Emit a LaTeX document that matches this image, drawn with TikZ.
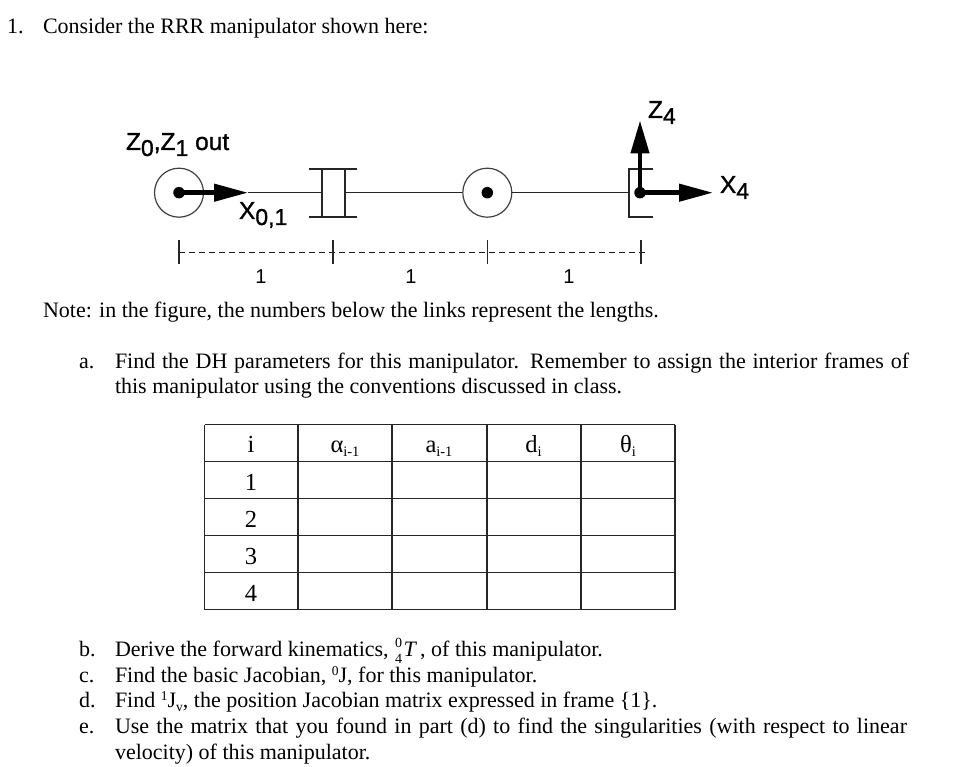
\documentclass[tikz,border=0pt]{standalone}
\usepackage{fontspec}
\setmainfont{Liberation Serif}
\newfontfamily\figfont[FakeBold=1.2]{Liberation Sans}
\newfontfamily\dimfont{Liberation Sans}
\usetikzlibrary{arrows.meta}
\newcommand{\figsub}[1]{\raisebox{-6pt}{\fontsize{23}{23}\selectfont #1}}
\newcommand{\supr}[1]{\raisebox{7pt}{\fontsize{13.5}{13.5}\selectfont #1}}
\newcommand{\subr}[1]{\raisebox{-4pt}{\fontsize{14.5}{14.5}\selectfont #1}}
\newcommand{\subv}[1]{\raisebox{-4pt}{\fontsize{13.5}{13.5}\selectfont #1}}
\newcommand{\stackzt}{\hspace{1pt}\rlap{\raisebox{9pt}{\fontsize{14}{14}\selectfont 0}}\raisebox{-7pt}{\fontsize{14}{14}\selectfont 4}\hspace{1.5pt}\textit{T}\hspace{3pt}}
\tikzset{
  x=1pt,y=-1pt,
  txt/.style={anchor=base west,inner sep=0pt,outer sep=0pt,font=\fontsize{22}{25}\selectfont},
  lab/.style={anchor=base west,inner sep=0pt,outer sep=0pt,font=\figfont\fontsize{24.5}{28}\selectfont},
  dimlab/.style={anchor=base,inner sep=0pt,outer sep=0pt,font=\dimfont\fontsize{20}{22}\selectfont},
  cellt/.style={anchor=base,inner sep=0pt,outer sep=0pt,font=\fontsize{24.5}{26}\selectfont},
  link/.style={draw=black!85,line width=1.5pt},
  rail/.style={draw=black!85,line width=1.6pt},
  joint/.style={circle,draw=black!75,line width=1.2pt,minimum size=49pt,inner sep=0pt,fill=white},
  hub/.style={circle,fill=black,minimum size=11.5pt,inner sep=0pt},
  axis/.style={line width=4.4pt,-{Triangle[length=34pt,width=17pt]}},
  zaxis/.style={line width=4.4pt,-{Triangle[length=33pt,width=18pt]}},
  dim/.style={draw=black!90,line width=1.4pt,dash pattern=on 6pt off 4pt},
  tick/.style={draw=black!85,line width=1.3pt},
  grid/.style={draw=black!85,line width=1.1pt}
}
\begin{document}
\begin{tikzpicture}
\useasboundingbox (0,0) rectangle (956,767);
\fill[white] (0,0) rectangle (956,767);
% text
\node[txt] (t1) at (7,34) {1.};
\node[txt] (t2) at (43,34) {Consider the RRR manipulator shown here:};
\node[txt] (note) at (43,318) {Note: in the figure, the numbers below the links represent the lengths.};
\node[txt] (al) at (79,368) {a.};
\node[txt] (a1) at (115,368) {\makebox[794pt][s]{Find the DH parameters for this manipulator. Remember to assign the interior frames of}};
\node[txt] (a2) at (115,393) {this manipulator using the conventions discussed in class.};
\node[txt] (bl) at (79,656) {b.};
\node[txt] (b1) at (115,656) {Derive the forward kinematics, \stackzt, of this manipulator.};
\node[txt] (cl) at (79,682) {c.};
\node[txt] (c1) at (115,682) {Find the basic Jacobian, \supr{0}J, for this manipulator.};
\node[txt] (dl) at (79,707) {d.};
\node[txt] (d1) at (115,707) {Find \supr{1}J\subv{v}, the position Jacobian matrix expressed in frame \{1\}.};
\node[txt] (el) at (79,733) {e.};
\node[txt] (e1) at (115,733) {\makebox[792pt][s]{Use the matrix that you found in part (d) to find the singularities (with respect to linear}};
\node[txt] (e2) at (115,759) {velocity) of this manipulator.};
% manipulator
\coordinate (pj1) at (179,192.7);
\coordinate (pL) at (321.7,192.7);
\coordinate (pR) at (345,192.7);
\coordinate (pj3) at (487.3,192.7);
\coordinate (pE) at (640,192.7);
\coordinate (bk) at (629,192.7);
\coordinate (xtip) at (713,192.7);
\coordinate (ztip) at (640,120.5);
\coordinate (x01tip) at (248,192.7);
\node[joint] (j1) at (pj1) {};
\node[joint] (j3) at (pj3) {};
\draw[link] (x01tip) -- (pL);
\draw[link] (pR) -- (j3.west);
\draw[link] (j3.east) -- (bk);
% prismatic joint
\draw[rail] (309,169) -- (357,169);
\draw[rail] (309,217) -- (357,217);
\draw[rail] (321.7,169) -- (321.7,217);
\draw[rail] (345,169) -- (345,217);
% end bracket
\draw[rail] (653,169) -- (629,169) -- (629,217) -- (653,217);
% axes
\node[hub] (h1) at (pj1) {};
\node[hub] (h3) at (pj3) {};
\node[hub] (h4) at (pE) {};
\draw[axis] (h1.center) -- (x01tip);
\draw[zaxis] (h4.center) -- (ztip);
\draw[axis] (h4.center) -- (xtip);
% labels
\node[lab] (lz) at (126,150) {Z\figsub{0},Z\figsub{1} out};
\node[lab] (lx) at (239,219) {X\figsub{0,1}};
\node[lab] (lz4) at (648,118) {Z\figsub{4}};
\node[lab] (lx4) at (720,193) {X\figsub{4}};
% dimensions
\coordinate (d0) at (179,252.3);
\coordinate (d1c) at (333,252.3);
\coordinate (d2c) at (487.3,252.3);
\coordinate (d3c) at (641,252.3);
\coordinate (d3e) at (648,252.3);
\draw[dim] (d0) -- (d3e);
\foreach \p in {d0,d1c,d2c,d3c}{
  \draw[tick] ([yshift=12pt]\p) -- ([yshift=-12pt]\p);
}
\node[dimlab] (n1) at (261,284) {1};
\node[dimlab] (n2) at (411,284) {1};
\node[dimlab] (n3) at (569,284) {1};
% table
\foreach \yy in {424.5,461.7,498.5,535.5,572.5,609.5}{
  \draw[grid] (204.5,\yy) -- (675,\yy);
}
\foreach \xx in {204.5,298,392,487,581,675}{
  \draw[grid] (\xx,424.5) -- (\xx,609.5);
}
\node[cellt] (h0) at (251,452) {i};
\node[cellt] (c1a) at (251,490) {1};
\node[cellt] (c2a) at (251,527) {2};
\node[cellt] (c3a) at (251,564) {3};
\node[cellt] (c4a) at (251,601) {4};
\node[cellt] (ha) at (345,452) {α\subr{i-1}};
\node[cellt] (hb) at (439,452) {a\subr{i-1}};
\node[cellt] (hc) at (533.5,452) {d\subr{i}};
\node[cellt] (hd) at (628,452) {θ\subr{i}};
\end{tikzpicture}
\end{document}
